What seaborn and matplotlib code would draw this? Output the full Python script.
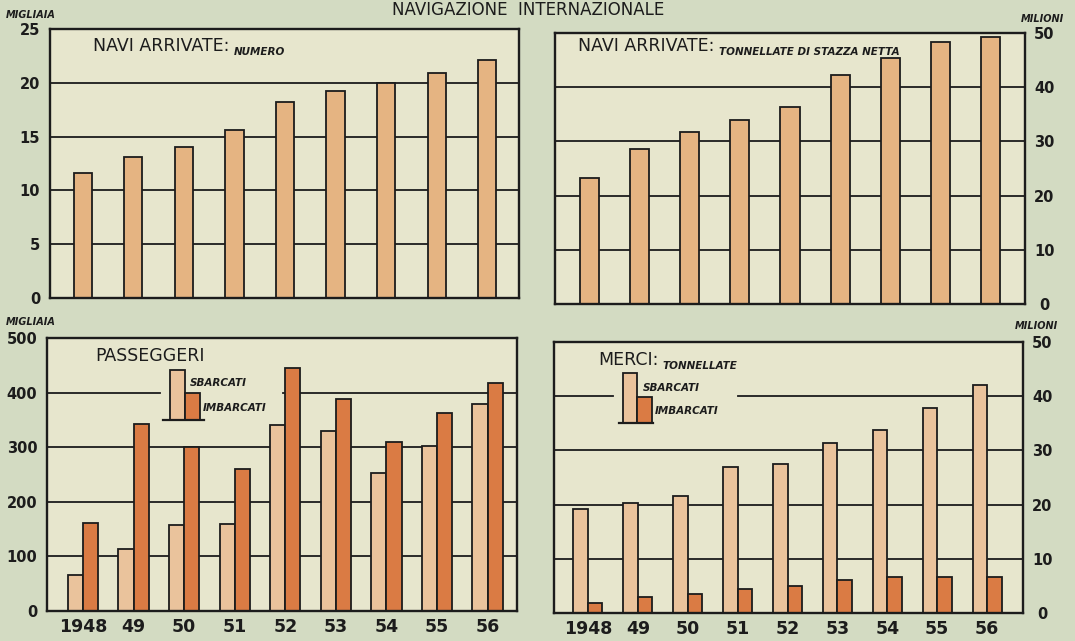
import matplotlib
matplotlib.use("Agg")
import matplotlib.pyplot as plt
import seaborn as sns
import pandas as pd
from matplotlib.patches import Rectangle
from matplotlib.lines import Line2D
from matplotlib.text import Annotation

# ---------------- data ----------------
years = ["1948", "49", "50", "51", "52", "53", "54", "55", "56"]
navi_numero = [11.6, 13.1, 14.0, 15.6, 18.2, 19.2, 20.0, 20.9, 22.1]          # migliaia
navi_tsn = [23.2, 28.6, 31.7, 33.9, 36.3, 42.2, 45.3, 48.4, 49.3]             # milioni
pass_sbarcati = [66, 114, 157, 159, 341, 330, 253, 303, 380]                  # migliaia
pass_imbarcati = [162, 343, 300, 260, 445, 389, 310, 362, 417]
merci_sbarcati = [19.2, 20.3, 21.5, 27.0, 27.4, 31.3, 33.8, 37.9, 42.0]       # milioni
merci_imbarcati = [1.8, 3.0, 3.5, 4.5, 4.9, 6.0, 6.7, 6.7, 6.6]
series_names = ["SBARCATI", "IMBARCATI"]

# ---------------- style ----------------
W, H = 1075, 641
BG_OUT = "#d3dbc2"
BG_IN = "#e7e6cd"
C_SINGLE = "#e5b482"
C_SB = "#eac39c"
C_IM = "#da7b44"
INK = "#1c1c1c"

plt.rcParams["font.family"] = ["DejaVu Sans"]

fig = plt.figure(figsize=(W / 100, H / 100), dpi=100, facecolor=BG_OUT)


def add_ax(l, r, t, b):
    ax = fig.add_axes([l / W, 1 - b / H, (r - l) / W, (b - t) / H])
    ax.set_facecolor(BG_IN)
    for s in ax.spines.values():
        s.set_color(INK)
        s.set_linewidth(1.7)
    return ax


def fx(x):
    return x / W


def fy(y):
    return 1 - y / H


ax_tl = add_ax(50, 519, 29, 298)
ax_tr = add_ax(555, 1025, 33, 304)
ax_bl = add_ax(47, 517, 338, 611)
ax_br = add_ax(554, 1023, 342, 613)

# ---- single series panels ----
df_num = pd.DataFrame({"anno": years, "valore": navi_numero})
df_tsn = pd.DataFrame({"anno": years, "valore": navi_tsn})
sns.barplot(data=df_num, x="anno", y="valore", order=years, color=C_SINGLE,
            saturation=1, width=0.36, edgecolor=INK, linewidth=1.3, ax=ax_tl)
sns.barplot(data=df_tsn, x="anno", y="valore", order=years, color=C_SINGLE,
            saturation=1, width=0.38, edgecolor=INK, linewidth=1.3, ax=ax_tr)

# ---- paired panels ----
df_pass = pd.DataFrame({
    "anno": years * 2,
    "valore": pass_sbarcati + pass_imbarcati,
    "serie": [series_names[0]] * 9 + [series_names[1]] * 9,
})
df_merci = pd.DataFrame({
    "anno": years * 2,
    "valore": merci_sbarcati + merci_imbarcati,
    "serie": [series_names[0]] * 9 + [series_names[1]] * 9,
})
sns.barplot(data=df_pass, x="anno", y="valore", hue="serie", order=years,
            hue_order=series_names, palette=[C_SB, C_IM], saturation=1,
            width=0.6, edgecolor=INK, linewidth=1.3, legend=False, ax=ax_bl)
sns.barplot(data=df_merci, x="anno", y="valore", hue="serie", order=years,
            hue_order=series_names, palette=[C_SB, C_IM], saturation=1,
            width=0.58, edgecolor=INK, linewidth=1.3, legend=False, ax=ax_br)

# ---- axes config ----
cfg = [
    (ax_tl, (-0.65, 8.63), 25, [0, 5, 10, 15, 20, 25], "left", False),
    (ax_tr, (-0.68, 8.68), 50, [0, 10, 20, 30, 40, 50], "right", False),
    (ax_bl, (-0.71, 8.58), 500, [0, 100, 200, 300, 400, 500], "left", True),
    (ax_br, (-0.68, 8.72), 50, [0, 10, 20, 30, 40, 50], "right", True),
]
for ax, xl, ymax, yt, side, showx in cfg:
    ax.set_xlim(*xl)
    ax.set_ylim(0, ymax)
    ax.set_yticks(yt)
    ax.set_xlabel("")
    ax.set_ylabel("")
    ax.grid(False)
    if side == "right":
        ax.yaxis.tick_right()
        ax.tick_params(axis="y", length=0, pad=14, labelsize=10.5, labelcolor=INK)
        for lab in ax.get_yticklabels():
            lab.set_horizontalalignment("center")
            lab.set_fontweight("bold")
    else:
        ax.tick_params(axis="y", length=0, pad=7, labelsize=10.5, labelcolor=INK)
        for lab in ax.get_yticklabels():
            lab.set_fontweight("bold")
    if showx:
        ax.tick_params(axis="x", length=0, pad=5, labelsize=12.5, labelcolor=INK)
        for lab in ax.get_xticklabels():
            lab.set_fontweight("bold")
    else:
        ax.tick_params(axis="x", length=0, labelbottom=False)

# gridlines (behind the bars)
for v in [5, 10, 15, 20]:
    ax_tl.axhline(v, color=INK, lw=1.3, zorder=0.5)
for v in [10, 20, 30, 40]:
    ax_tr.axhline(v, color=INK, lw=1.3, zorder=0.5)
for v in [100, 200, 300]:
    ax_bl.axhline(v, color=INK, lw=1.3, zorder=0.5)
ax_bl.axhline(400, xmin=0, xmax=(160 - 47) / 470, color=INK, lw=1.3, zorder=0.5)
ax_bl.axhline(400, xmin=(283 - 47) / 470, xmax=1, color=INK, lw=1.3, zorder=0.5)
for v in [10, 20, 30]:
    ax_br.axhline(v, color=INK, lw=1.3, zorder=0.5)
ax_br.axhline(40, xmin=0, xmax=(613 - 554) / 469, color=INK, lw=1.3, zorder=0.5)
ax_br.axhline(40, xmin=(738 - 554) / 469, xmax=1, color=INK, lw=1.3, zorder=0.5)

# ---- texts ----
fig.text(fx(528), fy(1), "NAVIGAZIONE  INTERNAZIONALE", ha="center",
         va="top", fontsize=12, color=INK)

small = dict(fontsize=7, fontweight="bold", fontstyle="italic", color=INK, va="center")
fig.text(fx(6), fy(15), "MIGLIAIA", ha="left", **small)
fig.text(fx(6), fy(322), "MIGLIAIA", ha="left", **small)
fig.text(fx(1064), fy(19), "MILIONI", ha="right", **small)
fig.text(fx(1058), fy(326), "MILIONI", ha="right", **small)

big = dict(fontsize=12.5, color=INK, va="baseline", ha="left")
sub = dict(fontsize=7.5, fontweight="bold", fontstyle="italic", color=INK,
           va="baseline", ha="left")


def heading(x, y_base, main, subtitle=None):
    t = fig.text(fx(x), fy(y_base), main, **big)
    if subtitle:
        a = Annotation(subtitle, xy=(1, 0), xycoords=t, xytext=(3, 0),
                       textcoords="offset points", **sub)
        fig.add_artist(a)
    return t


heading(93, 51, "NAVI ARRIVATE:", "NUMERO")
heading(578, 51, "NAVI ARRIVATE:", "TONNELLATE DI STAZZA NETTA")
heading(95, 361, "PASSEGGERI")
heading(598, 365, "MERCI:", "TONNELLATE")


# ---- hand-drawn style legends ----
def legend_block(x0, xm, x1, ytop_sb, ytop_im, ybase, bl0, bl1, tx_sb, ty_sb, tx_im, ty_im):
    for (xa, xb, yt, c) in [(x0, xm, ytop_sb, C_SB), (xm, x1, ytop_im, C_IM)]:
        r = Rectangle((fx(xa), fy(ybase)), fx(xb) - fx(xa), fy(yt) - fy(ybase),
                      transform=fig.transFigure, facecolor=c, edgecolor=INK,
                      linewidth=1.3, zorder=5)
        fig.add_artist(r)
    fig.add_artist(Line2D([fx(bl0), fx(bl1)], [fy(ybase), fy(ybase)],
                          transform=fig.transFigure, color=INK, lw=1.6, zorder=6))
    lab = dict(sub, va="center")
    fig.text(fx(tx_sb), fy(ty_sb), "SBARCATI", zorder=6, **lab)
    fig.text(fx(tx_im), fy(ty_im), "IMBARCATI", zorder=6, **lab)


legend_block(170, 185, 200, 370, 393, 420, 163, 204, 190, 383, 203, 408)
legend_block(623, 637, 652, 373, 397, 423, 619, 653, 643, 388, 655, 411)

fig.savefig("out.png", dpi=100, facecolor=BG_OUT)
